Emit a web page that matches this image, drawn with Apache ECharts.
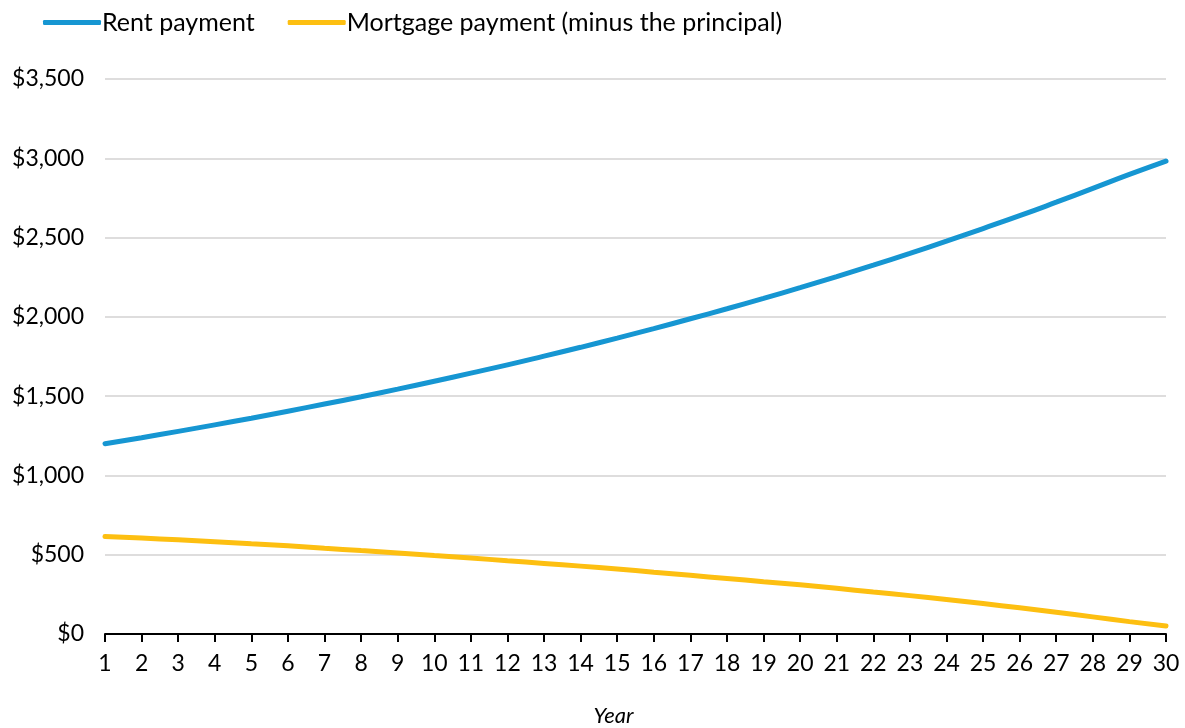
<!DOCTYPE html>
<html>
<head>
<meta charset="utf-8">
<script src="https://cdn.jsdelivr.net/npm/echarts@6/dist/echarts.min.js"></script>
<style>
  html, body { margin: 0; padding: 0; background: #fff; }
  #chart { width: 1185px; height: 728px; }
</style>
</head>
<body>
<div id="chart"></div>
<script>
const years = [];
for (let i = 1; i <= 30; i++) years.push(String(i));

const rentPayment = [
  1200, 1238, 1278, 1319, 1361, 1405, 1450, 1496, 1544, 1594,
  1645, 1697, 1752, 1808, 1866, 1926, 1988, 2051, 2116, 2184,
  2254, 2326, 2400, 2477, 2557, 2638, 2723, 2810, 2898, 2982
];
const mortgagePayment = [
  615, 605, 594, 582, 569, 556, 541, 526, 511, 495,
  479, 462, 445, 428, 410, 390, 370, 350, 330, 310,
  288, 265, 242, 218, 192, 165, 137, 108, 78, 50
];

const font = "Lato, 'Open Sans', sans-serif";

const chart = echarts.init(document.getElementById("chart"));
chart.setOption({
  animation: false,
  textStyle: { fontFamily: font },
  legend: {
    left: 38,
    top: 5,
    itemWidth: 58,
    itemHeight: 5,
    itemGap: 33,
    icon: "roundRect",
    textStyle: { fontSize: 25, color: "#000", fontFamily: font, padding: [0, 0, 0, -4] },
    data: ["Rent payment", "Mortgage payment (minus the principal)"]
  },
  grid: { left: 105, right: 19, top: 79, bottom: 94, outerBoundsMode: "none" },
  xAxis: {
    type: "category",
    data: years,
    boundaryGap: false,
    name: "Year",
    nameLocation: "middle",
    nameGap: 71,
    nameTextStyle: {
      fontStyle: "italic", fontSize: 22, color: "#000", fontFamily: font,
      padding: [0, 44, 0, 0]
    },
    axisLine: { lineStyle: { color: "#000", width: 2 } },
    axisTick: { alignWithLabel: true, length: 8, lineStyle: { color: "#000", width: 2 } },
    axisLabel: { fontSize: 23, color: "#000", margin: 18, interval: 0 }
  },
  yAxis: {
    type: "value",
    min: 0,
    max: 3500,
    interval: 500,
    axisLabel: {
      fontSize: 23,
      color: "#000",
      margin: 21,
      formatter: (v) => "$" + v.toLocaleString("en-US")
    },
    splitLine: { lineStyle: { color: "#dedddd", width: 2 } }
  },
  series: [
    {
      name: "Rent payment",
      type: "line",
      data: rentPayment,
      smooth: true,
      showSymbol: false,
      lineStyle: { width: 5, color: "#1696d2", cap: "round" },
      itemStyle: { color: "#1696d2" }
    },
    {
      name: "Mortgage payment (minus the principal)",
      type: "line",
      data: mortgagePayment,
      smooth: true,
      showSymbol: false,
      lineStyle: { width: 5, color: "#fdbf11", cap: "round" },
      itemStyle: { color: "#fdbf11" }
    }
  ]
});
</script>
</body>
</html>
